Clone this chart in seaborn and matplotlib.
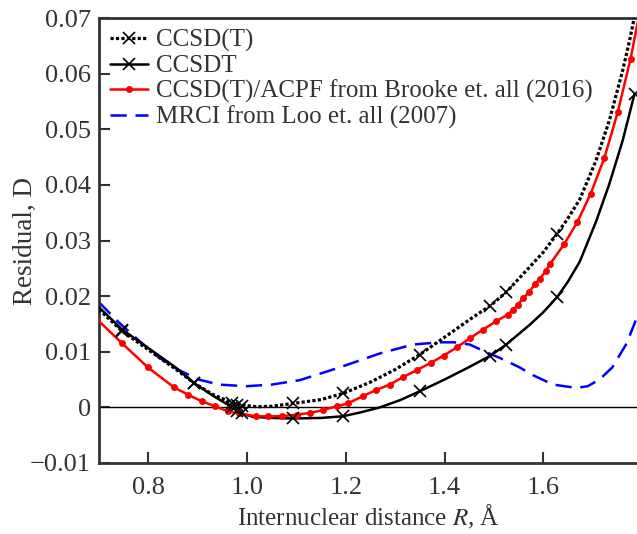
import numpy as np
import pandas as pd
import matplotlib
matplotlib.use('Agg')
import matplotlib.pyplot as plt
from matplotlib.lines import Line2D
import seaborn as sns

# CCSD(T) curve (dotted) and its marked points
ccsd_t_R = [0.700, 0.747, 0.801, 0.855, 0.892, 0.929, 0.970, 0.983, 1.020, 1.050, 1.093,
            1.150, 1.194, 1.249, 1.300, 1.350, 1.400, 1.451, 1.493, 1.525, 1.572, 1.600,
            1.628, 1.650, 1.674, 1.707, 1.734, 1.761, 1.775, 1.790]
ccsd_t = [0.0176, 0.0137, 0.0103, 0.0069, 0.0044, 0.0024, 0.0008, 0.0005, 0.0001, 0.0002, 0.0007,
          0.0014, 0.0025, 0.0045, 0.0068, 0.0095, 0.0126, 0.0158, 0.0183, 0.0207, 0.0252, 0.0279,
          0.0312, 0.0340, 0.0374, 0.0444, 0.0516, 0.0606, 0.0660, 0.0725]
ccsd_t_mark_R = [0.747, 0.892, 0.970, 0.980, 0.990, 1.093, 1.194, 1.350, 1.493, 1.525, 1.628]
ccsd_t_mark = [0.0137, 0.0044, 0.0008, 0.0005, 0.0002, 0.0007, 0.0025, 0.0095, 0.0183, 0.0207, 0.0312]

# CCSDT curve (solid) and its marked points
ccsdt_R = [0.700, 0.747, 0.801, 0.855, 0.892, 0.929, 0.970, 0.990, 1.012, 1.050, 1.093,
           1.150, 1.194, 1.230, 1.269, 1.310, 1.350, 1.400, 1.451, 1.493, 1.525, 1.572,
           1.600, 1.628, 1.650, 1.674, 1.707, 1.734, 1.761, 1.785]
ccsdt = [0.0180, 0.0140, 0.0106, 0.0072, 0.0044, 0.0022, 0.0000, -0.0011, -0.0017, -0.0019, -0.0020,
         -0.0019, -0.0016, -0.0009, 0.0000, 0.0013, 0.0029, 0.0050, 0.0073, 0.0093, 0.0113, 0.0148,
         0.0171, 0.0198, 0.0226, 0.0262, 0.0334, 0.0402, 0.0480, 0.0564]
ccsdt_mark_R = [0.747, 0.892, 0.970, 0.980, 0.990, 1.093, 1.194, 1.350, 1.493, 1.525, 1.628, 1.785]
ccsdt_mark = [0.0140, 0.0044, 0.0000, -0.0007, -0.0011, -0.0020, -0.0016, 0.0029, 0.0093, 0.0113, 0.0198, 0.0564]

# CCSD(T)/ACPF, Brooke et al. (2016)
brooke_R = [0.694, 0.747, 0.799, 0.852, 0.880, 0.908, 0.935, 0.961, 0.983, 1.018, 1.042,
            1.070, 1.101, 1.127, 1.153, 1.182, 1.204, 1.234, 1.261, 1.289, 1.315, 1.344,
            1.372, 1.398, 1.425, 1.451, 1.478, 1.505, 1.528, 1.539, 1.549, 1.559, 1.571,
            1.583, 1.593, 1.605, 1.614, 1.642, 1.669, 1.696, 1.724, 1.751, 1.777, 1.803]
brooke = [0.0160, 0.0115, 0.0072, 0.0036, 0.0023, 0.0011, 0.0002, -0.0007, -0.0011, -0.0016, -0.0016,
          -0.0016, -0.0013, -0.0010, -0.0005, 0.0002, 0.0007, 0.0020, 0.0031, 0.0041, 0.0054, 0.0067,
          0.0080, 0.0093, 0.0108, 0.0124, 0.0140, 0.0155, 0.0167, 0.0175, 0.0185, 0.0196, 0.0207,
          0.0221, 0.0231, 0.0245, 0.0258, 0.0293, 0.0333, 0.0384, 0.0449, 0.0531, 0.0627, 0.0745]

# MRCI, Loo et al. (2007)
loo_R = [0.700, 0.740, 0.781, 0.821, 0.862, 0.902, 0.943, 0.998, 1.050, 1.107, 1.188,
         1.269, 1.336, 1.390, 1.420, 1.451, 1.493, 1.512, 1.552, 1.579, 1.620, 1.667,
         1.690, 1.714, 1.740, 1.769, 1.789]
loo = [0.0189, 0.0153, 0.0120, 0.0090, 0.0067, 0.0050, 0.0041, 0.0038, 0.0041, 0.0049, 0.0072,
       0.0097, 0.0113, 0.0117, 0.0117, 0.0113, 0.0096, 0.0089, 0.0072, 0.0058, 0.0041, 0.0035,
       0.0038, 0.0050, 0.0072, 0.0115, 0.0160]

sns.set_style('ticks')
plt.rcParams['font.family'] = ['Liberation Serif', 'DejaVu Serif']
plt.rcParams['mathtext.fontset'] = 'stix'

gray = '#333333'
dotted = (0, (1.0, 0.7))
dashed = (0, (6.5, 3.5))

fig = plt.figure(figsize=(6.37, 5.34), dpi=100)
ax = fig.add_axes([0.1554, 0.133, 0.8446, 0.833])

ax.axhline(0, color='black', lw=1, zorder=1)

sns.lineplot(x=loo_R, y=loo, ax=ax, sort=False, color='#0000ff', lw=1.8,
             linestyle=dashed, zorder=2)
sns.lineplot(x=ccsdt_R, y=ccsdt, ax=ax, sort=False, color='black', lw=1.8, zorder=3)
sns.lineplot(x=ccsd_t_R, y=ccsd_t, ax=ax, sort=False, color='black', lw=2.3,
             linestyle=dotted, zorder=3)
sns.lineplot(x=brooke_R, y=brooke, ax=ax, sort=False, color='#ff0000', lw=1.8,
             marker='o', markersize=5, markeredgewidth=0, zorder=4)
ax.plot(ccsdt_mark_R, ccsdt_mark, 'x', color='black', ms=8, mew=1.2, zorder=5)
ax.plot(ccsd_t_mark_R, ccsd_t_mark, 'x', color='black', ms=8, mew=1.2, zorder=5)

ax.set_xlim(0.7, 1.79)
ax.set_ylim(-0.01, 0.07)
ax.set_xticks([0.8, 1.0, 1.2, 1.4, 1.6])
ax.set_xticklabels(['0.8', '1.0', '1.2', '1.4', '1.6'])
ax.set_yticks([-0.01, 0, 0.01, 0.02, 0.03, 0.04, 0.05, 0.06, 0.07])
ax.set_yticklabels(['\u22120.01', '0', '0.01', '0.02', '0.03', '0.04', '0.05', '0.06', '0.07'])
ax.tick_params(direction='in', length=8, width=1.5, colors=gray, labelsize=19)
ax.tick_params(axis='x', pad=10)
ax.tick_params(axis='y', pad=6)
for s in ['left', 'bottom', 'top']:
    ax.spines[s].set_color(gray)
    ax.spines[s].set_linewidth(2)
ax.spines['right'].set_visible(False)

ax.set_xlabel('Internuclear distance $R$, Å', fontsize=18, color=gray, labelpad=3)
ax.set_ylabel('Residual, D', fontsize=19.5, color=gray)
ax.yaxis.set_label_coords(-0.113, 0.5)

handles = [
    Line2D([], [], color='black', lw=2.3, linestyle=dotted, marker='x', ms=8, mew=1.2),
    Line2D([], [], color='black', lw=1.8, marker='x', ms=8, mew=1.2),
    Line2D([], [], color='#ff0000', lw=1.8, marker='o', ms=5, mew=0),
    Line2D([], [], color='#0000ff', lw=1.8, linestyle=dashed),
]
labels = ['CCSD(T)', 'CCSDT', 'CCSD(T)/ACPF from Brooke et. all (2016)',
          'MRCI from Loo et. all (2007)']
leg = ax.legend(handles, labels, loc='upper left', frameon=False, fontsize=18,
                handlelength=1.5, handletextpad=0.32, labelspacing=0.1,
                borderaxespad=0.05, borderpad=0.4, numpoints=1)
for t in leg.get_texts():
    t.set_color(gray)

fig.savefig('out.png', dpi=100)
